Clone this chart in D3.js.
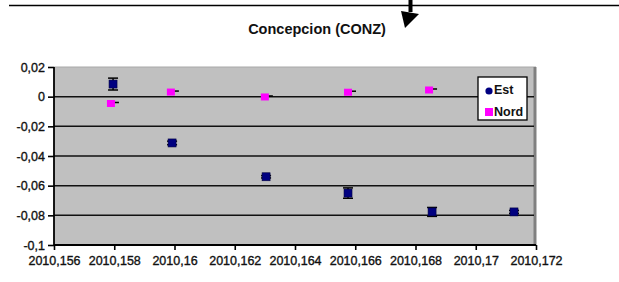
<!DOCTYPE html>
<html>
<head>
<meta charset="utf-8">
<script src="https://cdn.jsdelivr.net/npm/d3@7"></script>
<style>
  body { margin: 0; background: #fff; }
  svg { display: block; }
  text { font-family: "Liberation Sans", Arial, sans-serif; }
</style>
</head>
<body>
<div id="chart"></div>
<script>
// chart data
const title = "Concepcion (CONZ)";
const estDates = [2010.15796, 2010.15992, 2010.16304, 2010.16576, 2010.16855, 2010.17127];
const estValues = [0.0085, -0.0312, -0.054, -0.065, -0.0777, -0.0777];
const estErrors = [0.004, 0.0012, 0.0008, 0.0035, 0.003, 0.001];
const nordDates = [2010.15789, 2010.15988, 2010.163, 2010.16576, 2010.16845];
const nordValues = [-0.0046, 0.0031, -0.0002, 0.003, 0.0045];
const xTicks = [2010.156, 2010.158, 2010.16, 2010.162, 2010.164, 2010.166, 2010.168, 2010.17, 2010.172];
const xTickLabels = ["2010,156", "2010,158", "2010,16", "2010,162", "2010,164", "2010,166", "2010,168", "2010,17", "2010,172"];
const yTicks = [0.02, 0, -0.02, -0.04, -0.06, -0.08, -0.1];
const yTickLabels = ["0,02", "0", "-0,02", "-0,04", "-0,06", "-0,08", "-0,1"];
const seriesNames = ["Est", "Nord"];

const W = 619, H = 282;
const plot = {left: 54, right: 536, top: 67, bottom: 245};

const svg = d3.select("#chart").append("svg")
  .attr("width", W)
  .attr("height", H);

const x = d3.scaleLinear()
  .domain([xTicks[0], xTicks[xTicks.length - 1]])
  .range([plot.left, plot.right]);

const y = d3.scaleLinear()
  .domain([yTicks[yTicks.length - 1], yTicks[0]])
  .range([plot.bottom, plot.top]);

// page decoration above the chart: rule and arrow
svg.append("line")
  .attr("x1", 9).attr("x2", W)
  .attr("y1", 5.5).attr("y2", 5.5)
  .attr("stroke", "#000").attr("stroke-width", 1.6);
svg.append("rect")
  .attr("x", 408.5).attr("y", 0).attr("width", 4).attr("height", 12)
  .attr("fill", "#000");
svg.append("path")
  .attr("d", "M401,11 L419,14 L405,28 Z")
  .attr("fill", "#000");

// title
svg.append("text")
  .attr("x", 317).attr("y", 34)
  .attr("text-anchor", "middle")
  .attr("font-size", 14.5)
  .attr("font-weight", "bold")
  .attr("fill", "#111")
  .text(title);

// plot area
svg.append("rect")
  .attr("x", plot.left).attr("y", plot.top)
  .attr("width", plot.right - plot.left).attr("height", plot.bottom - plot.top)
  .attr("fill", "#c0c0c0");
svg.append("line")
  .attr("x1", plot.left).attr("x2", plot.right)
  .attr("y1", plot.top).attr("y2", plot.top)
  .attr("stroke", "#a8a8a8").attr("stroke-width", 1);
svg.append("line")
  .attr("x1", plot.right - 1).attr("x2", plot.right - 1)
  .attr("y1", plot.top).attr("y2", plot.bottom)
  .attr("stroke", "#808080").attr("stroke-width", 3);

// gridlines
svg.append("g")
  .selectAll("line")
  .data(yTicks.slice(1, yTicks.length - 1))
  .join("line")
  .attr("x1", plot.left).attr("x2", plot.right - 2)
  .attr("y1", d => y(d)).attr("y2", d => y(d))
  .attr("stroke", "#111").attr("stroke-width", 1.5);

// axes
const yAxis = svg.append("g")
  .attr("transform", `translate(${plot.left},0)`)
  .call(d3.axisLeft(y).tickValues(yTicks).tickSize(6).tickPadding(3)
    .tickFormat((d, i) => yTickLabels[i]));
const xAxis = svg.append("g")
  .attr("transform", `translate(0,${plot.bottom})`)
  .call(d3.axisBottom(x).tickValues(xTicks).tickSize(5).tickPadding(6)
    .tickFormat((d, i) => xTickLabels[i]));

[yAxis, xAxis].forEach(a => {
  a.select(".domain").attr("stroke", "#000").attr("stroke-width", 1.8);
  a.selectAll(".tick line").attr("stroke", "#000").attr("stroke-width", 1.6);
  a.selectAll(".tick text")
    .attr("font-size", 12.5)
    .attr("fill", "#111")
    .attr("stroke", "#111")
    .attr("stroke-width", 0.35)
    .style("font-family", "'Liberation Sans', Arial, sans-serif");
});
yAxis.select(".domain").attr("d", `M0,${plot.top}V${plot.bottom}`);
xAxis.select(".domain").attr("d", `M${plot.left},0H${plot.right}`);

// Est error bars
const est = estDates.map((d, i) => ({x: d, y: estValues[i], e: estErrors[i]}));
const errG = svg.append("g").attr("stroke", "#000").attr("stroke-width", 1.5);
errG.selectAll(".bar").data(est).join("line")
  .attr("x1", d => x(d.x)).attr("x2", d => x(d.x))
  .attr("y1", d => y(d.y + d.e)).attr("y2", d => y(d.y - d.e));
errG.selectAll(".capTop").data(est).join("line")
  .attr("x1", d => x(d.x) - 5).attr("x2", d => x(d.x) + 5)
  .attr("y1", d => y(d.y + d.e)).attr("y2", d => y(d.y + d.e));
errG.selectAll(".capBot").data(est).join("line")
  .attr("x1", d => x(d.x) - 5).attr("x2", d => x(d.x) + 5)
  .attr("y1", d => y(d.y - d.e)).attr("y2", d => y(d.y - d.e));

// Nord: tiny error caps showing to the right of the marker
const nord = nordDates.map((d, i) => ({x: d, y: nordValues[i]}));
svg.append("g").selectAll("line").data(nord).join("line")
  .attr("x1", d => x(d.x)).attr("x2", d => x(d.x) + 8)
  .attr("y1", d => y(d.y) - 1).attr("y2", d => y(d.y) - 1)
  .attr("stroke", "#000").attr("stroke-width", 1.5);

// markers
svg.append("g").selectAll("rect").data(est).join("rect")
  .attr("x", d => x(d.x) - 4).attr("y", d => y(d.y) - 4)
  .attr("width", 8).attr("height", 8)
  .attr("fill", "#000080").attr("stroke", "#000040").attr("stroke-width", 0.6);
svg.append("g").selectAll("rect").data(nord).join("rect")
  .attr("x", d => x(d.x) - 4).attr("y", d => y(d.y) - 3.5)
  .attr("width", 8).attr("height", 7)
  .attr("fill", "#ff00ff");

// legend
const lg = svg.append("g").attr("transform", "translate(478,77)");
lg.append("rect")
  .attr("width", 49).attr("height", 43)
  .attr("fill", "#fff").attr("stroke", "#000").attr("stroke-width", 1.3);
lg.append("circle").attr("cx", 11).attr("cy", 14).attr("r", 3.6).attr("fill", "#000080");
lg.append("rect").attr("x", 7).attr("y", 31).attr("width", 8).attr("height", 8).attr("fill", "#ff00ff");
lg.selectAll("text").data(seriesNames).join("text")
  .attr("x", 16)
  .attr("y", (d, i) => 13 + i * 22)
  .attr("dy", "0.35em")
  .attr("font-size", 12.5)
  .attr("font-weight", "bold")
  .attr("fill", "#111")
  .text(d => d);
</script>
</body>
</html>
